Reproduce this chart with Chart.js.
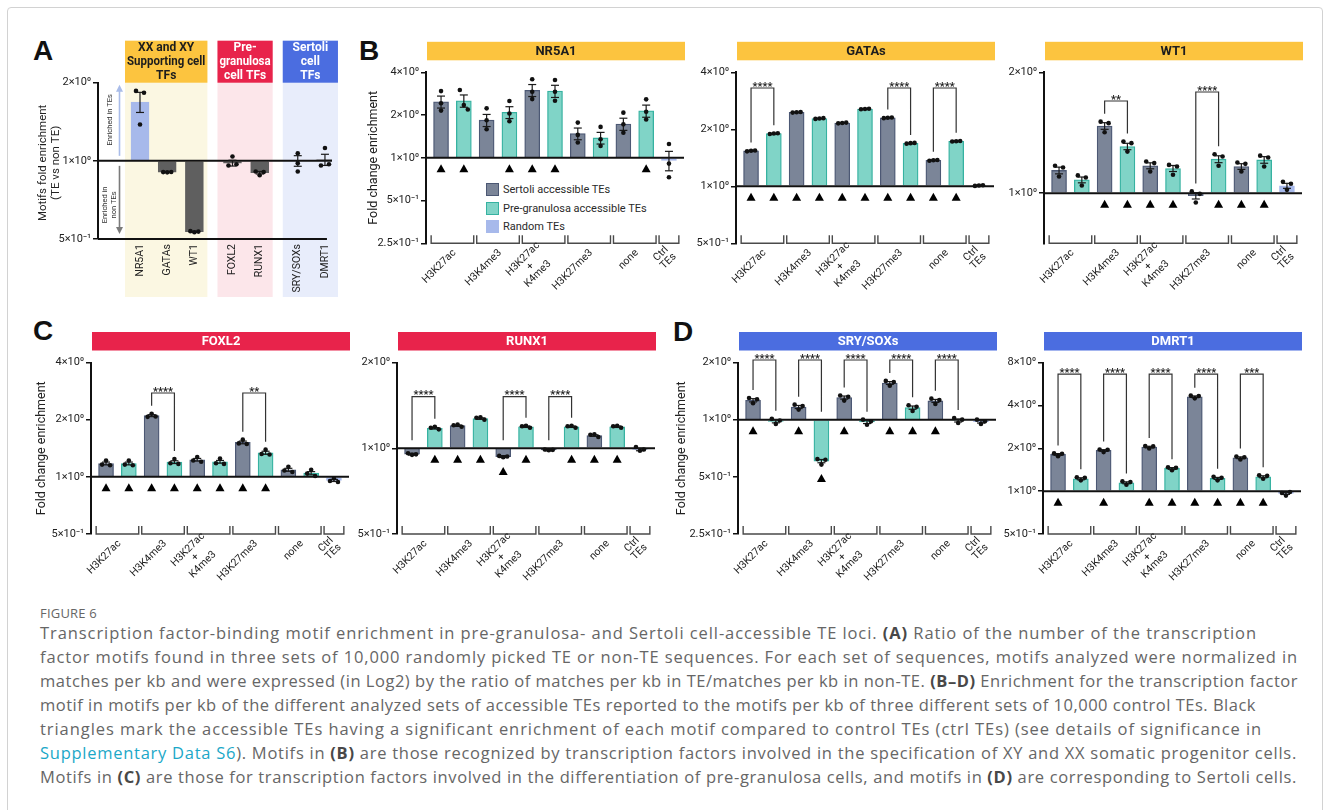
<!DOCTYPE html>
<html>
<head>
<meta charset="utf-8">
<title>Figure 6</title>
<script src="https://cdn.jsdelivr.net/npm/chart.js@4.4.1/dist/chart.umd.min.js"></script>
<style>
  html, body { margin: 0; padding: 0; background: #fff; }
  body { width: 1329px; height: 810px; position: relative; overflow: hidden; font-family: Roboto, 'Open Sans', sans-serif; }
  .frame { position: absolute; left: 7px; top: 7px; width: 1314px; height: 900px; border: 1px solid #d2d2d2; border-radius: 4px; }
  .panel { position: absolute; }
  .letter { position: absolute; font: bold 28px 'Liberation Sans', Arial, sans-serif; line-height: 1; color: #111; }
  .legend { position: absolute; left: 486px; top: 180px; font-size: 11px; color: #2a2a2a; }
  .legend div { height: 18.7px; display: flex; align-items: center; }
  .legend i { display: inline-block; width: 11px; height: 11px; margin-right: 4px; border: 1.2px solid; }
  #caption { position: absolute; left: 40px; top: 605px; font-family: 'Open Sans', 'Noto Sans', sans-serif; color: #666; }
  #caption .fig { font-size: 13px; letter-spacing: 0.2px; height: 16px; line-height: 16px; }
  #caption .ln { font-size: 16.5px; line-height: 24px; height: 24px; white-space: nowrap; }
  #caption b { color: #484848; }
  #caption a { color: #1ba8c8; text-decoration: none; }
</style>
</head>
<body>
<div class="frame"></div>
<div class="letter" style="left:33px;top:37px">A</div>
<div class="letter" style="left:359px;top:37px">B</div>
<div class="letter" style="left:33px;top:317px">C</div>
<div class="letter" style="left:673px;top:318px">D</div>
<div class="legend" id="legend"></div>

<div id="caption">
  <div class="fig">FIGURE 6</div>
  <div class="ln" data-end="1257">Transcription factor-binding motif enrichment in pre-granulosa- and Sertoli cell-accessible TE loci. <b>(A)</b> Ratio of the number of the transcription</div>
  <div class="ln" data-end="1298">factor motifs found in three sets of 10,000 randomly picked TE or non-TE sequences. For each set of sequences, motifs analyzed were normalized in</div>
  <div class="ln" data-end="1298">matches per kb and were expressed (in Log2) by the ratio of matches per kb in TE/matches per kb in non-TE. <b>(B–D)</b> Enrichment for the transcription factor</div>
  <div class="ln" data-end="1256">motif in motifs per kb of the different analyzed sets of accessible TEs reported to the motifs per kb of three different sets of 10,000 control TEs. Black</div>
  <div class="ln" data-end="1262">triangles mark the accessible TEs having a significant enrichment of each motif compared to control TEs (ctrl TEs) (see details of significance in</div>
  <div class="ln" data-end="1297"><a>Supplementary Data S6</a>). Motifs in <b>(B)</b> are those recognized by transcription factors involved in the specification of XY and XX somatic progenitor cells.</div>
  <div class="ln" data-end="1297">Motifs in <b>(C)</b> are those for transcription factors involved in the differentiation of pre-granulosa cells, and motifs in <b>(D)</b> are corresponding to Sertoli cells.</div>
</div>

<script>
// ---------- shared categories (panels B-D) ----------
const groupLabels = [['H3K27ac'], ['H3K4me3'], ['H3K27ac', '+', 'K4me3'], ['H3K27me3'], ['none'], ['Ctrl', 'TEs']];
const barGroup = [0, 0, 1, 1, 2, 2, 3, 3, 4, 4, 5];
const barKind = ['S', 'P', 'S', 'P', 'S', 'P', 'S', 'P', 'S', 'P', 'R'];
const legendLabels = ['Sertoli accessible TEs', 'Pre-granulosa accessible TEs', 'Random TEs'];
const legendKinds = ['S', 'P', 'R'];
const yTitleBD = ['Fold change enrichment'];

// ---------- panel A ----------
const motifsA = ['NR5A1', 'GATAs', 'WT1', 'FOXL2', 'RUNX1', 'SRY/SOXs', 'DMRT1'];
const familiesA = [['XX and XY', 'Supporting cell', 'TFs'], ['Pre-', 'granulosa', 'cell TFs'], ['Sertoli', 'cell', 'TFs']];
const familyOfA = [0, 0, 0, 1, 1, 2, 2];
const kindA = ['R', 'N', 'N', 'N', 'N', 'N', 'N'];
const meanA = [1.686, 0.905, 0.533, 0.98, 0.90, 1.0, 1.01];
const dotsA = [[1.86, 1.38, 1.83], [0.905, 0.903, 0.906], [0.536, 0.531, 0.534], [0.96, 1.04, 0.97],
               [0.91, 0.88, 0.905], [1.07, 0.98, 0.91], [0.96, 1.12, 0.97]];
const semA = [0.15, 0.002, 0.003, 0.025, 0.01, 0.047, 0.05];
const ticksA = [0.5, 1, 2];
const yTitleA = ['Motifs fold enrichment', '(TE vs non TE)'];
const arrowTextA = [['Enriched in TEs'], ['Enriched in', 'non TEs']];

// ---------- NR5A1 ----------
const nr5a1Ticks = [0.25, 0.5, 1, 2, 4];
const nr5a1Mean = [2.48, 2.52, 1.84, 2.09, 2.99, 2.95, 1.48, 1.38, 1.73, 2.14, 0.96];
const nr5a1Dots = [[2.95, 2.42, 2.15], [3.0, 2.35, 2.19], [2.23, 1.84, 1.59], [2.51, 2.05, 1.81], [3.57, 2.92, 2.59],
                   [3.53, 2.92, 2.52], [1.77, 1.45, 1.28], [1.65, 1.35, 1.21], [2.08, 1.72, 1.50], [2.58, 2.11, 1.86], [1.25, 0.91, 0.73]];
const nr5a1Sem = [0.24, 0.25, 0.18, 0.2, 0.29, 0.29, 0.14, 0.13, 0.17, 0.21, 0.15];
const nr5a1Tri = [1, 1, 0, 1, 1, 1, 0, 0, 0, 1, 0];
const nr5a1Sig = [];

// ---------- GATAs ----------
const gatasTicks = [0.5, 1, 2, 4];
const gatasMean = [1.537, 1.897, 2.46, 2.28, 2.16, 2.56, 2.30, 1.687, 1.372, 1.73, 1.01];
const gatasDots = [[1.53, 1.54, 1.545], [1.89, 1.9, 1.905], [2.45, 2.46, 2.47], [2.27, 2.28, 2.29], [2.15, 2.16, 2.17],
                   [2.55, 2.56, 2.57], [2.29, 2.3, 2.31], [1.68, 1.69, 1.695], [1.365, 1.372, 1.378], [1.725, 1.73, 1.735], [1.005, 1.01, 1.012]];
const gatasSem = [0.008, 0.008, 0.008, 0.008, 0.008, 0.008, 0.008, 0.008, 0.008, 0.008, 0.004];
const gatasTri = [1, 1, 1, 1, 1, 1, 1, 1, 1, 1, 0];
const gatasSig = [[0, 1, '****'], [6, 7, '****'], [8, 9, '****']];

// ---------- WT1 ----------
const wt1Ticks = [1, 2];
const wt1Range = [0.75, 2];
const wt1Mean = [1.139, 1.079, 1.47, 1.307, 1.17, 1.152, 0.985, 1.215, 1.165, 1.21, 1.043];
const wt1Dots = [[1.17, 1.10, 1.158], [1.107, 1.045, 1.094], [1.507, 1.418, 1.494], [1.344, 1.269, 1.332], [1.199, 1.132, 1.188],
                 [1.176, 1.111, 1.165], [1.01, 0.948, 0.996], [1.25, 1.17, 1.234], [1.192, 1.132, 1.183], [1.24, 1.165, 1.227], [1.067, 1.019, 1.055]];
const wt1Sem = [0.022, 0.018, 0.028, 0.024, 0.02, 0.02, 0.018, 0.024, 0.019, 0.023, 0.015];
const wt1Tri = [0, 0, 1, 1, 1, 1, 0, 1, 1, 1, 0];
const wt1Sig = [[2, 3, '**'], [6, 7, '****']];

// ---------- FOXL2 ----------
const foxl2Ticks = [0.5, 1, 2, 4];
const foxl2Mean = [1.176, 1.176, 2.10, 1.195, 1.23, 1.2, 1.518, 1.339, 1.089, 1.045, 0.957];
const foxl2Dots = [[1.16, 1.22, 1.15], [1.16, 1.22, 1.15], [2.07, 2.15, 2.08], [1.18, 1.24, 1.17], [1.22, 1.27, 1.2],
                   [1.18, 1.25, 1.17], [1.5, 1.57, 1.49], [1.32, 1.39, 1.31], [1.08, 1.13, 1.06], [1.04, 1.09, 1.01], [0.95, 0.98, 0.94]];
const foxl2Sem = [0.02, 0.02, 0.025, 0.02, 0.02, 0.02, 0.025, 0.025, 0.02, 0.02, 0.012];
const foxl2Tri = [1, 1, 1, 1, 1, 1, 1, 1, 0, 0, 0];
const foxl2Sig = [[2, 3, '****'], [6, 7, '**']];

// ---------- RUNX1 ----------
const runx1Ticks = [0.5, 1, 2];
const runx1Mean = [0.953, 1.175, 1.2, 1.27, 0.935, 1.19, 0.986, 1.19, 1.108, 1.19, 0.99];
const runx1Dots = [[0.96, 0.948, 0.952], [1.18, 1.19, 1.165], [1.205, 1.21, 1.19], [1.28, 1.285, 1.26], [0.94, 0.93, 0.935],
                   [1.195, 1.2, 1.18], [0.99, 0.984, 0.987], [1.195, 1.2, 1.18], [1.115, 1.12, 1.095], [1.195, 1.2, 1.18], [1.01, 0.98, 0.99]];
const runx1Sem = [0.007, 0.007, 0.007, 0.007, 0.007, 0.007, 0.007, 0.007, 0.007, 0.007, 0.01];
const runx1Tri = [0, 1, 1, 1, 1, 1, 0, 1, 1, 1, 0];
const runx1Sig = [[0, 1, '****'], [4, 5, '****'], [6, 7, '****']];

// ---------- SRY/SOXs ----------
const soxTicks = [0.25, 0.5, 1, 2];
const soxMean = [1.265, 0.98, 1.166, 0.605, 1.307, 0.972, 1.56, 1.157, 1.255, 0.99, 0.975];
const soxDots = [[1.3, 1.22, 1.28], [1.01, 0.95, 0.99], [1.2, 1.13, 1.18], [0.62, 0.58, 0.615], [1.34, 1.26, 1.32],
                 [1.0, 0.94, 0.98], [1.6, 1.51, 1.58], [1.19, 1.11, 1.17], [1.29, 1.21, 1.27], [1.02, 0.96, 1.0], [1.0, 0.95, 0.98]];
const soxSem = [0.025, 0.018, 0.022, 0.012, 0.025, 0.018, 0.027, 0.023, 0.023, 0.018, 0.015];
const soxTri = [1, 0, 1, 1, 1, 0, 1, 1, 1, 0, 0];
const soxSig = [[0, 1, '****'], [2, 3, '****'], [4, 5, '****'], [6, 7, '****'], [8, 9, '****']];

// ---------- DMRT1 ----------
const dmrt1Ticks = [0.5, 1, 2, 4, 8];
const dmrt1Mean = [1.81, 1.221, 1.93, 1.144, 2.04, 1.443, 4.6, 1.228, 1.715, 1.261, 0.963];
const dmrt1Dots = [[1.84, 1.76, 1.83], [1.25, 1.19, 1.24], [1.96, 1.88, 1.95], [1.17, 1.11, 1.16], [2.07, 1.99, 2.06],
                   [1.47, 1.4, 1.46], [4.68, 4.48, 4.65], [1.26, 1.19, 1.24], [1.75, 1.67, 1.73], [1.29, 1.22, 1.28], [0.97, 0.93, 0.985]];
const dmrt1Sem = [0.025, 0.02, 0.025, 0.018, 0.025, 0.02, 0.06, 0.02, 0.025, 0.02, 0.015];
const dmrt1Tri = [1, 0, 1, 0, 1, 1, 1, 1, 1, 1, 0];
const dmrt1Sig = [[0, 1, '****'], [2, 3, '****'], [4, 5, '****'], [6, 7, '****'], [8, 9, '***']];

// ---------- styling ----------
const FONT = "Roboto, 'Open Sans', sans-serif";
const FILL = { S: '#7b8598', P: '#80d4c7', R: '#a7b9eb', N: '#5f5f5f' };
const EDGE = { S: '#4c5874', P: '#36b2a1', R: '#a7b9eb', N: '#5f5f5f' };
const YELLOW = '#fcc43f', CRIMSON = '#e8234b', BLUE = '#4b6de0';

Chart.defaults.font.family = FONT;
Chart.defaults.color = '#222';

const SUP = { '0': '⁰', '1': '¹', '2': '²', '-': '⁻' };
function sci(v) {
  const e = Math.floor(Math.log10(v) + 1e-9);
  const m = Math.round(v / Math.pow(10, e) * 100) / 100;
  return m + '×10' + String(e).split('').map(c => SUP[c] || c).join('');
}

function seg(ctx, x1, y1, x2, y2) {
  ctx.beginPath(); ctx.moveTo(x1, y1); ctx.lineTo(x2, y2); ctx.stroke();
}

function rotText(ctx, s, x, y) {
  ctx.save(); ctx.translate(x, y); ctx.rotate(-Math.PI / 2); ctx.fillText(s, 0, 0); ctx.restore();
}

// everything around the bars: headers, error bars, dots, brackets, labels
function figPlugin(p) {
  return {
    id: 'fig',
    beforeDraw(chart) {
      const { ctx, chartArea: ca, scales: { x } } = chart;
      const px = i => x.getPixelForValue(p.pos[i]);
      ctx.save();
      ctx.textAlign = 'center';
      ctx.textBaseline = 'middle';
      if (p.title) {
        ctx.fillStyle = p.head;
        ctx.fillRect(ca.left + 1, ca.top - 30.5, ca.right - ca.left, 18.5);
        ctx.fillStyle = p.headInk;
        ctx.font = `bold 13px ${FONT}`;
        ctx.fillText(p.title, (ca.left + ca.right) / 2 + 1, ca.top - 21);
      }
      if (p.families) {
        p.families.forEach((lines, g) => {
          const idx = p.familyOf.map((f, i) => (f === g ? i : -1)).filter(i => i >= 0);
          const x0 = px(idx[0]) - 15, x1 = px(idx[idx.length - 1]) + 13;
          const top = ca.top - 42;
          ctx.fillStyle = p.regionBg[g];
          ctx.fillRect(x0, top, x1 - x0, ca.bottom + 58 - top);
          ctx.fillStyle = p.regionHead[g];
          ctx.fillRect(x0, top, x1 - x0, 42);
          ctx.fillStyle = p.regionInk[g];
          ctx.font = `bold 12px ${FONT}`;
          lines.forEach((s, k) => ctx.fillText(s, (x0 + x1) / 2, top + 7.5 + k * 14, x1 - x0 - 4));
        });
      }
      ctx.restore();
    },
    afterDatasetsDraw(chart) {
      const { ctx, chartArea: ca, scales: { x, y } } = chart;
      const px = i => x.getPixelForValue(p.pos[i]);
      const py = v => y.getPixelForValue(v);
      const one = py(1);
      const n = p.mean.length;
      ctx.save();

      // baseline at 1
      ctx.strokeStyle = '#111'; ctx.lineWidth = 2;
      seg(ctx, ca.left, one, ca.right, one);

      // error bars + replicate dots
      p.mean.forEach((m, i) => {
        const cx = px(i), s = p.sem[i];
        const t = py(m + s), b = py(m - s);
        ctx.strokeStyle = '#1a1a1a'; ctx.lineWidth = 1.2;
        seg(ctx, cx, t, cx, b);
        seg(ctx, cx - 4, t, cx + 4, t);
        seg(ctx, cx - 4, b, cx + 4, b);
        const ys = p.dots[i].map(py);
        const tight = Math.min(Math.abs(ys[0] - ys[1]), Math.abs(ys[1] - ys[2]), Math.abs(ys[0] - ys[2])) < 5;
        ctx.fillStyle = '#111';
        ys.forEach((yy, k) => {
          ctx.beginPath();
          ctx.arc(cx + (tight ? (k - 1) * 4 : 0), yy, 2.3, 0, Math.PI * 2);
          ctx.fill();
        });
        // significance triangle vs control TEs
        if (p.tri && p.tri[i]) {
          const low = py(Math.min(...p.dots[i], m - s));
          const ty = Math.max(one + 11, low + 14);
          ctx.fillStyle = '#000';
          ctx.beginPath();
          ctx.moveTo(cx, ty - 4.5); ctx.lineTo(cx + 4.5, ty + 3.5); ctx.lineTo(cx - 4.5, ty + 3.5);
          ctx.closePath(); ctx.fill();
        }
      });

      // pairwise significance brackets
      (p.sig || []).forEach(([a, b, label], k) => {
        const yt = ca.top + p.sigTop[k];
        const leg = i => Math.min(one, py(Math.max(...p.dots[i], p.mean[i] + p.sem[i]))) - 8;
        ctx.strokeStyle = '#333'; ctx.lineWidth = 1.2;
        ctx.beginPath();
        ctx.moveTo(px(a), leg(a)); ctx.lineTo(px(a), yt); ctx.lineTo(px(b), yt); ctx.lineTo(px(b), leg(b));
        ctx.stroke();
        ctx.fillStyle = '#222'; ctx.font = `bold 11px ${FONT}`;
        ctx.textAlign = 'center'; ctx.textBaseline = 'alphabetic';
        ctx.fillText(label, (px(a) + px(b)) / 2, yt + 1.5);
      });

      if (p.bracketAxis) {
        // grouped x axis: |____| per histone mark, labels at 45 degrees
        const slot = px(1) - px(0);
        groupLabels.forEach((lines, g) => {
          const idx = barGroup.map((bg, i) => (bg === g ? i : -1)).filter(i => i >= 0);
          const xs = px(idx[0]) - slot / 2 + 1.5, xe = px(idx[idx.length - 1]) + slot / 2 - 1.5;
          ctx.strokeStyle = '#4a4a4a'; ctx.lineWidth = 1.4;
          ctx.beginPath();
          ctx.moveTo(xs, ca.bottom - 8); ctx.lineTo(xs, ca.bottom); ctx.lineTo(xe, ca.bottom); ctx.lineTo(xe, ca.bottom - 8);
          ctx.stroke();
          const gx = (px(idx[0]) + px(idx[idx.length - 1])) / 2;
          ctx.fillStyle = '#222'; ctx.font = `10.5px ${FONT}`;
          ctx.textAlign = 'center'; ctx.textBaseline = 'middle';
          const w = Math.max(...lines.map(s => ctx.measureText(s).width));
          ctx.save();
          ctx.translate(gx + 2, ca.bottom + 8);
          ctx.rotate(-Math.PI / 4);
          lines.forEach((s, k) => ctx.fillText(s, -w / 2, (k - (lines.length - 1) / 2) * 10.5));
          ctx.restore();
        });
      } else {
        ctx.strokeStyle = '#111'; ctx.lineWidth = 2;
        seg(ctx, ca.left, ca.bottom, px(n - 1) + 2, ca.bottom);
        ctx.fillStyle = '#222'; ctx.font = `10.5px ${FONT}`;
        ctx.textAlign = 'right'; ctx.textBaseline = 'middle';
        p.labels.forEach((s, i) => rotText(ctx, s, px(i), ca.bottom + 5));
      }

      // panel A direction arrows
      if (p.arrows) {
        const y2 = py(2), yh = py(0.5), ax = ca.left + 21.5;
        ctx.lineWidth = 1.6;
        ctx.strokeStyle = ctx.fillStyle = '#a9bce9';
        seg(ctx, ax, one - 5, ax, y2 + 8);
        ctx.beginPath(); ctx.moveTo(ax, y2 + 2); ctx.lineTo(ax - 3.5, y2 + 9); ctx.lineTo(ax + 3.5, y2 + 9); ctx.fill();
        ctx.strokeStyle = ctx.fillStyle = '#7b7b7b';
        seg(ctx, ax, one + 5, ax, yh - 12);
        ctx.beginPath(); ctx.moveTo(ax, yh - 5); ctx.lineTo(ax - 3.5, yh - 12); ctx.lineTo(ax + 3.5, yh - 12); ctx.fill();
        ctx.fillStyle = '#333'; ctx.font = `7.5px ${FONT}`;
        ctx.textAlign = 'center'; ctx.textBaseline = 'middle';
        rotText(ctx, p.arrows[0][0], ca.left + 12, (one + y2) / 2 - 2);
        rotText(ctx, p.arrows[1][0], ca.left + 7, (one + yh) / 2 + 5);
        rotText(ctx, p.arrows[1][1], ca.left + 16, (one + yh) / 2 + 5);
      }

      // y title
      if (p.yTitle) {
        ctx.fillStyle = '#222'; ctx.font = `${p.yTitleSize}px ${FONT}`;
        ctx.textAlign = 'center'; ctx.textBaseline = 'middle';
        p.yTitle.forEach((s, k) => rotText(ctx, s, p.yTitleX[k], (ca.top + ca.bottom) / 2 + (p.yTitleDy || 0)));
      }
      ctx.restore();
    }
  };
}

function build(p) {
  const wrap = document.createElement('div');
  wrap.className = 'panel';
  wrap.style.left = p.box[0] + 'px';
  wrap.style.top = p.box[1] + 'px';
  wrap.style.width = p.box[2] + 'px';
  wrap.style.height = p.box[3] + 'px';
  const cv = document.createElement('canvas');
  wrap.appendChild(cv);
  document.body.appendChild(wrap);
  if (!p.pos) p.pos = p.mean.map((_, i) => i);
  const range = p.range || [p.ticks[0], p.ticks[p.ticks.length - 1]];

  new Chart(cv, {
    type: 'bar',
    data: {
      datasets: [{
        data: p.mean.map((v, i) => ({ x: p.pos[i], y: v })),
        base: 1,
        backgroundColor: p.kind.map(k => FILL[k]),
        borderColor: p.kind.map(k => EDGE[k]),
        borderWidth: 1.3,
        barThickness: p.barW
      }]
    },
    options: {
      responsive: true,
      maintainAspectRatio: false,
      animation: false,
      events: [],
      layout: { padding: { left: 0, top: p.pad[0], right: p.pad[1], bottom: p.pad[2] } },
      plugins: { legend: { display: false }, tooltip: { enabled: false } },
      scales: {
        x: { type: 'linear', display: false, offset: false, min: p.xr[0], max: p.xr[1] },
        y: {
          type: 'logarithmic',
          min: range[0],
          max: range[1],
          beginAtZero: false,
          afterBuildTicks: s => { s.ticks = p.ticks.map(v => ({ value: v })); },
          afterFit: s => { s.width = p.yW; },
          ticks: { callback: v => sci(v), font: { size: 11 }, color: '#222', padding: 2, autoSkip: false },
          grid: { drawOnChartArea: false, drawTicks: true, tickLength: 5, color: '#111', lineWidth: 1.5 },
          border: { display: true, color: '#111', width: 2 }
        }
      }
    },
    plugins: [figPlugin(p)]
  });
}

// ---------- panel A ----------
build({
  box: [30, 36, 345, 270], yW: 68, pad: [46.7, 43, 67],
  pos: familyOfA.map((f, i) => i + 0.4 * f), xr: [-1.544, 7.059],
  ticks: ticksA, mean: meanA, dots: dotsA, sem: semA, kind: kindA, barW: 18,
  labels: motifsA, families: familiesA, familyOf: familyOfA,
  regionBg: ['#fbf7e2', '#fce6ea', '#e8edfb'], regionHead: [YELLOW, CRIMSON, BLUE], regionInk: ['#1d1d1d', '#fff', '#fff'],
  arrows: arrowTextA, yTitle: yTitleA, yTitleX: [13, 26], yTitleSize: 11.5, yTitleDy: 2
});

// ---------- panels B-D ----------
const XR = [-0.66, 10.66];
const ROW1 = [36.3, 62.7], ROW2 = [36.5, 62];
const panelsBD = [
  { title: 'NR5A1', head: YELLOW, headInk: '#1d1d1d', box: [366, 36, 322, 270], yW: 60, padR: 4, row: ROW1,
    ticks: nr5a1Ticks, mean: nr5a1Mean, dots: nr5a1Dots, sem: nr5a1Sem, tri: nr5a1Tri, sig: nr5a1Sig, sigTop: [],
    yTitle: yTitleBD, yTitleX: [8] },
  { title: 'GATAs', head: YELLOW, headInk: '#1d1d1d', box: [688, 36, 312, 270], yW: 48, padR: 6, row: ROW1,
    ticks: gatasTicks, mean: gatasMean, dots: gatasDots, sem: gatasSem, tri: gatasTri, sig: gatasSig, sigTop: [15.7, 15.7, 15.7] },
  { title: 'WT1', head: YELLOW, headInk: '#1d1d1d', box: [1000, 36, 329, 270], yW: 44, padR: 27, row: ROW1, range: wt1Range,
    ticks: wt1Ticks, mean: wt1Mean, dots: wt1Dots, sem: wt1Sem, tri: wt1Tri, sig: wt1Sig, sigTop: [28.7, 19.7] },
  { title: 'FOXL2', head: CRIMSON, headInk: '#fff', box: [30, 326, 325, 270], yW: 61, padR: 6, row: ROW2,
    ticks: foxl2Ticks, mean: foxl2Mean, dots: foxl2Dots, sem: foxl2Sem, tri: foxl2Tri, sig: foxl2Sig, sigTop: [30.5, 30.5],
    yTitle: yTitleBD, yTitleX: [12] },
  { title: 'RUNX1', head: CRIMSON, headInk: '#fff', box: [352, 326, 310, 270], yW: 45, padR: 7, row: ROW2,
    ticks: runx1Ticks, mean: runx1Mean, dots: runx1Dots, sem: runx1Sem, tri: runx1Tri, sig: runx1Sig, sigTop: [34.2, 34.2, 34.2] },
  { title: 'SRY/SOXs', head: BLUE, headInk: '#fff', box: [666, 326, 334, 270], yW: 72, padR: 4, row: ROW2,
    ticks: soxTicks, mean: soxMean, dots: soxDots, sem: soxSem, tri: soxTri, sig: soxSig, sigTop: [-2.5, -2.5, -2.5, -2.5, -2.5],
    yTitle: yTitleBD, yTitleX: [16] },
  { title: 'DMRT1', head: BLUE, headInk: '#fff', box: [1000, 326, 329, 270], yW: 43, padR: 28, row: ROW2,
    ticks: dmrt1Ticks, mean: dmrt1Mean, dots: dmrt1Dots, sem: dmrt1Sem, tri: dmrt1Tri, sig: dmrt1Sig, sigTop: [11.7, 11.7, 11.7, 11.7, 11.7] }
];

panelsBD.forEach(p => {
  build(Object.assign({}, p, {
    pad: [p.row[0], p.padR, p.row[1]], xr: XR, kind: barKind, barW: 15,
    bracketAxis: true, yTitleSize: 12.5
  }));
});

// ---------- legend (inside NR5A1) ----------
const legend = document.getElementById('legend');
legendLabels.forEach((label, i) => {
  const row = document.createElement('div');
  const box = document.createElement('i');
  box.style.background = FILL[legendKinds[i]];
  box.style.borderColor = EDGE[legendKinds[i]];
  row.appendChild(box);
  row.appendChild(document.createTextNode(label));
  legend.appendChild(row);
});

// ---------- caption: fit each line to its measured width ----------
document.querySelectorAll('#caption .ln').forEach(el => {
  el.style.display = 'inline-block';
  const natural = el.getBoundingClientRect().width;
  const target = +el.dataset.end - 40;
  const n = el.textContent.length;
  el.style.letterSpacing = ((target - natural) / n).toFixed(3) + 'px';
  el.style.display = 'block';
});
</script>
</body>
</html>
